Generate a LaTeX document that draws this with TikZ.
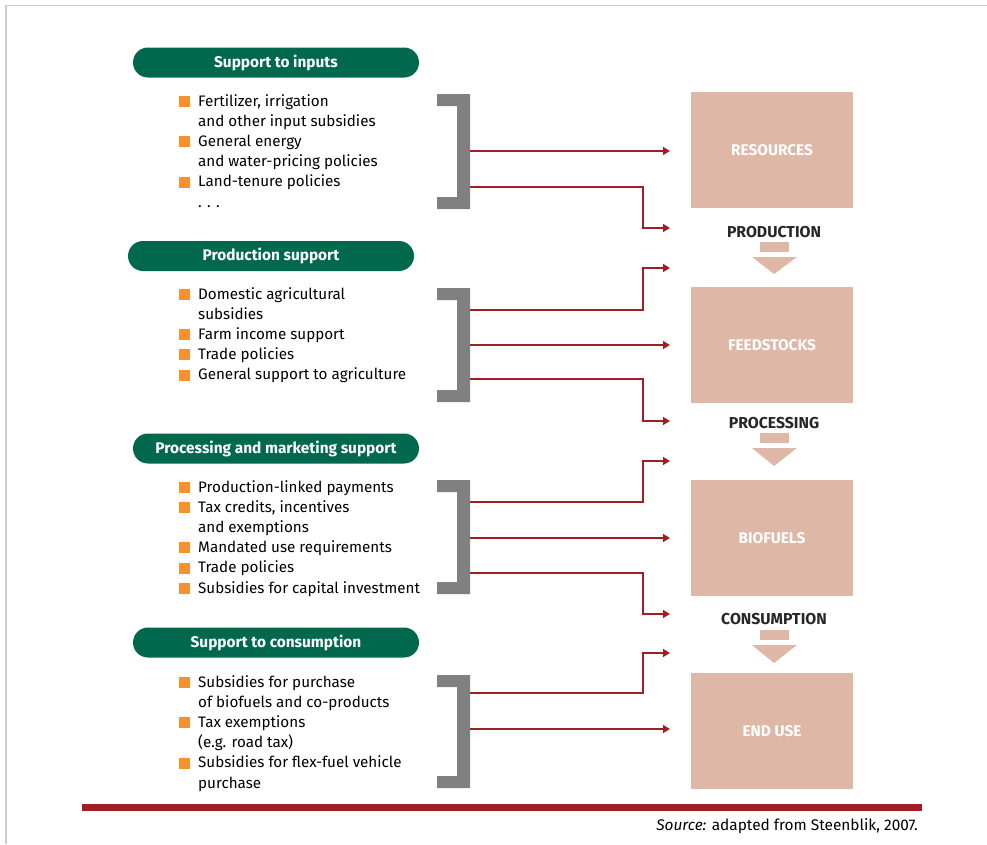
\documentclass[tikz,border=0pt]{standalone}
\usepackage{fontspec}
\setmainfont{Fira Sans}
\usetikzlibrary{arrows.meta}
\definecolor{fsgreen}{RGB}{0,104,76}
\definecolor{fsorange}{RGB}{247,144,47}
\definecolor{fspink}{RGB}{222,183,167}
\definecolor{fsred}{RGB}{160,30,36}
\definecolor{fsgray}{RGB}{128,128,128}
\definecolor{fsframe}{RGB}{205,205,205}
\newcommand{\bul}{\textcolor{fsorange}{\rule[-0.8pt]{11pt}{11pt}}}
\tikzset{
  header/.style={fill=fsgreen, rounded corners=15pt, minimum width=286pt, minimum height=30pt,
    inner sep=0pt, text=white, font=\bfseries\fontsize{15.4}{17}\selectfont},
  stage/.style={fill=fspink, minimum width=162pt, minimum height=116pt, inner sep=0pt,
    text=white, font=\bfseries\fontsize{15.4}{17}\selectfont},
  steplabel/.style={inner sep=0pt, text=black!85, font=\bfseries\fontsize{15.8}{17}\selectfont},
  items/.style={anchor=base west, inner sep=0pt, font=\fontsize{15.2}{20.2}\selectfont},
  flow/.style={fsred, line width=1.5pt, -{Triangle[length=7pt,width=8pt]}},
}
\begin{document}
\begin{tikzpicture}[x=1pt,y=-1pt]
	\useasboundingbox (0,0) rectangle (987,844);
	\draw [fsframe, line width=1.5pt] (6,844) -- (6,5.5) -- (987,5.5);
	\node[header] (hdr1) at (276,62.5) {Support to inputs};
	\node[header] (hdr2) at (271,256) {Production support};
	\node[header] (hdr3) at (276,448.5) {Processing and marketing support};
	\node[header] (hdr4) at (276,642.5) {Support to consumption};
	\node[items] (list1) at (179,106) {\begin{tabular}[t]{@{}l@{\hspace{8pt}}l@{}}
		\bul & Fertilizer, irrigation\\
		& and other input subsidies\\
		\bul & General energy\\
		& and water-pricing policies\\
		\bul & Land-tenure policies\\
		& . . .
	\end{tabular}};
	\node[items] (list2) at (179,299) {\begin{tabular}[t]{@{}l@{\hspace{8pt}}l@{}}
		\bul & Domestic agricultural\\
		& subsidies\\
		\bul & Farm income support\\
		\bul & Trade policies\\
		\bul & General support to agriculture
	\end{tabular}};
	\node[items] (list3) at (179,492) {\begin{tabular}[t]{@{}l@{\hspace{8pt}}l@{}}
		\bul & Production-linked payments\\
		\bul & Tax credits, incentives\\
		& and exemptions\\
		\bul & Mandated use requirements\\
		\bul & Trade policies\\
		\bul & Subsidies for capital investment
	\end{tabular}};
	\node[items] (list4) at (179,687) {\begin{tabular}[t]{@{}l@{\hspace{8pt}}l@{}}
		\bul & Subsidies for purchase\\
		& of biofuels and co-products\\
		\bul & Tax exemptions\\
		& (e.g. road tax)\\
		\bul & Subsidies for flex-fuel vehicle\\
		& purchase
	\end{tabular}};
	\fill [fsgray] (437,94) -- (470,94) -- (470,209) -- (437,209) -- (437,197) -- (457,197) -- (457,106) -- (437,106) -- cycle;
	\fill [fsgray] (437,288) -- (470,288) -- (470,402) -- (437,402) -- (437,390) -- (457,390) -- (457,300) -- (437,300) -- cycle;
	\fill [fsgray] (437,480) -- (470,480) -- (470,594) -- (437,594) -- (437,582) -- (457,582) -- (457,492) -- (437,492) -- cycle;
	\fill [fsgray] (437,675) -- (470,675) -- (470,788) -- (437,788) -- (437,776) -- (457,776) -- (457,687) -- (437,687) -- cycle;
	\node[stage] (res) at (772,150) {RESOURCES};
	\node[stage] (feed) at (772,345) {FEEDSTOCKS};
	\node[stage] (bio) at (772,538) {BIOFUELS};
	\node[stage] (use) at (772,731) {END USE};
	\node[steplabel] (prod) at (774,232) {PRODUCTION};
	\node[steplabel] (proc) at (774,423) {PROCESSING};
	\node[steplabel] (cons) at (774,619) {CONSUMPTION};
	\fill [fspink] (760,242) rectangle (789,252);
	\fill [fspink] (752,257) -- (797,257) -- (774,274) -- cycle;
	\fill [fspink] (760,433) rectangle (789,443);
	\fill [fspink] (752,448) -- (797,448) -- (774,466) -- cycle;
	\fill [fspink] (760,630) rectangle (789,640);
	\fill [fspink] (752,645) -- (797,645) -- (774,663) -- cycle;
	\coordinate (tipx) at (670,0);
	\coordinate (bendx) at (643,0);
	\coordinate (b1a) at (470,151);
	\coordinate (b1b) at (470,187);
	\coordinate (b2a) at (470,310);
	\coordinate (b2b) at (470,345);
	\coordinate (b2c) at (470,379);
	\coordinate (b3a) at (470,502);
	\coordinate (b3b) at (470,538);
	\coordinate (b3c) at (470,573);
	\coordinate (b4a) at (470,693);
	\coordinate (b4b) at (470,729);
	\coordinate (in1) at (670,228);
	\coordinate (out1) at (670,268);
	\coordinate (in2) at (670,421);
	\coordinate (out2) at (670,461);
	\coordinate (in3) at (670,614);
	\coordinate (out3) at (670,653);
	\draw [flow] (b1a) -- (tipx |- b1a);
	\draw [flow] (b1b) -| (bendx |- in1) -- (in1);
	\draw [flow] (b2a) -| (bendx |- out1) -- (out1);
	\draw [flow] (b2b) -- (tipx |- b2b);
	\draw [flow] (b2c) -| (bendx |- in2) -- (in2);
	\draw [flow] (b3a) -| (bendx |- out2) -- (out2);
	\draw [flow] (b3b) -- (tipx |- b3b);
	\draw [flow] (b3c) -| (bendx |- in3) -- (in3);
	\draw [flow] (b4a) -| (bendx |- out3) -- (out3);
	\draw [flow] (b4b) -- (tipx |- b4b);
	\fill [fsred] (82,804) rectangle (922,811);
	\node[anchor=base east, inner sep=0pt, font=\fontsize{15.4}{17}\selectfont] (src) at (918,830.5) {\textit{Source:} adapted from Steenblik, 2007.};
\end{tikzpicture}
\end{document}
